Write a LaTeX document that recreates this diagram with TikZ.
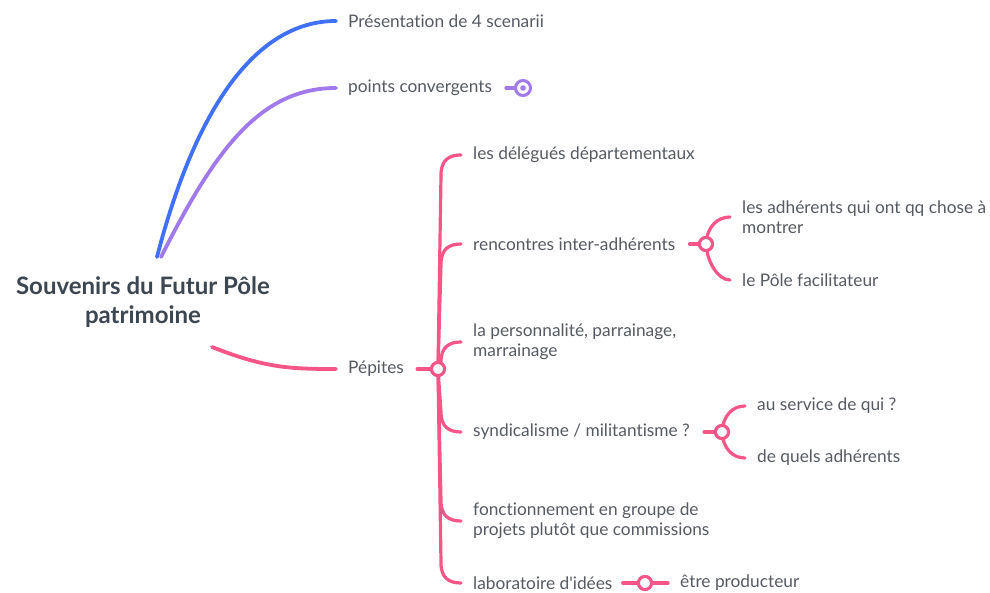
\documentclass[tikz,border=0pt]{standalone}
\usepackage{fontspec}
\setmainfont{Lato}[Ligatures={NoCommon,NoRequired,NoContextual}]
\usetikzlibrary{calc}
\definecolor{mblue}{RGB}{64,112,245}
\definecolor{mpurple}{RGB}{160,122,235}
\definecolor{mpink}{RGB}{245,85,135}
\definecolor{mtext}{RGB}{85,90,98}
\definecolor{mtitle}{RGB}{59,70,80}
\tikzset{
  lbl/.style={anchor=west, inner xsep=12pt, inner ysep=0pt, text=mtext, align=left,
    font=\fontsize{17.3}{20}\selectfont},
  ttl/.style={align=center, text=mtitle, font=\fontsize{24}{29}\selectfont\bfseries},
  mainline/.style={line width=3.8pt, line cap=round},
  subline/.style={line width=3.2pt, line cap=round, draw=mpink},
  knot/.style={circle, draw=mpink, line width=3pt, fill=white, minimum size=13pt, inner sep=0pt},
}
\begin{document}
\begin{tikzpicture}[x=1pt,y=-1pt]
\useasboundingbox (0,0) rectangle (990,593);
% nodes
\node[ttl] (title) at (143,302) {Souvenirs du Futur Pôle\\patrimoine};
\node[lbl] (pres) at (336,21) {Présentation de 4 scenarii};
\node[lbl] (conv) at (336,88) {points convergents};
\node[lbl] (pep) at (336,369) {Pépites};
\node[knot] (pc) at (438,369) {};
\node[lbl] (dele) at (461,155) {les délégués départementaux};
\node[lbl] (renc) at (461,244) {rencontres inter-adhérents};
\node[lbl] (pers) at (461,342) {la personnalité, parrainage,\\marrainage};
\node[lbl] (synd) at (461,432) {syndicalisme / militantisme ?};
\node[lbl] (fonc) at (461,521) {fonctionnement en groupe de\\projets plutôt que commissions};
\node[lbl] (labo) at (461,583) {laboratoire d\textquotesingle idées};
\node[knot] (rc) at (706,244) {};
\node[lbl] (adh) at (730,217) {les adhérents qui ont qq chose à\\montrer};
\node[lbl] (pole) at (730,280) {le Pôle facilitateur};
\node[knot] (sc) at (722,432) {};
\node[lbl] (serv) at (745,406) {au service de qui ?};
\node[lbl] (quels) at (745,458) {de quels adhérents};
\node[knot] (lc) at (645,583) {};
\node[lbl] (prod) at (668,583) {être producteur};
% free ends
\coordinate (sb) at (157,257);
\coordinate (sp) at (161,257);
\coordinate (sk) at (212,347);
% main branches
\draw[mainline, mblue] (sb) .. controls (195,110) and (255,21) .. (pres.west);
\draw[mainline, mpurple] (sp) .. controls (215,150) and (260,88) .. (conv.west);
\draw[mainline, mpink] (sk) .. controls (265,368) and (290,369) .. (pep.west);
% purple icon
\node[circle, draw=mpurple, line width=3pt, minimum size=15pt, inner sep=0pt] (ci) at (523,88) {};
\fill[mpurple] (ci.center) circle (2.8pt);
\coordinate (cis) at (506,88);
\draw[subline, mpurple] (cis) -- (ci.west);
% Pepites
\draw[subline] ($(pep.east)+(1,0)$) -- (pc.west);
\foreach \n/\s in {dele/1,renc/1,pers/1,synd/-1,fonc/-1,labo/-1}{
  \draw[subline] (pc.center) -- ($(\n.west)+(-20,20*\s)$) .. controls +(0,-15*\s) and +(-12,0) .. (\n.west);
}
% rencontres
\draw[subline] ($(renc.east)+(2,0)$) -- (rc.west);
\draw[subline] (rc.center) .. controls +(1,-18) and +(-12,0) .. (adh.west);
\draw[subline] (rc.center) .. controls +(1,18) and +(-12,0) .. (pole.west);
% syndicalisme
\draw[subline] ($(synd.east)+(2,0)$) -- (sc.west);
\draw[subline] (sc.center) .. controls +(1,-17) and +(-12,0) .. (serv.west);
\draw[subline] (sc.center) .. controls +(1,17) and +(-12,0) .. (quels.west);
% laboratoire
\draw[subline] ($(labo.east)+(-2,0)$) -- (lc.west);
\draw[subline] (lc.east) -- (prod.west);
% redraw knots on top
\foreach \k in {pc,rc,sc,lc}{\node[knot] at (\k) {};}
\end{tikzpicture}
\end{document}
